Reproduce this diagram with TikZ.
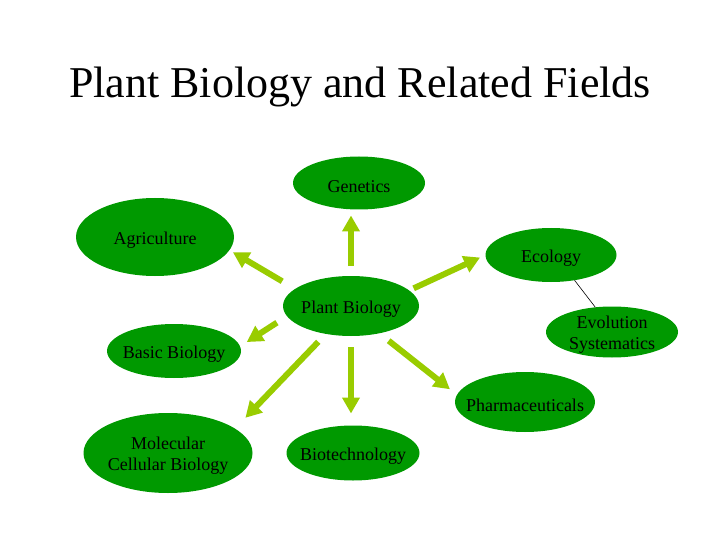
\documentclass[tikz,border=0pt]{standalone}
\usepackage{fontspec}
\setmainfont{Liberation Serif}
\usetikzlibrary{shapes.geometric}
\usetikzlibrary{arrows.meta}

\definecolor{fieldgreen}{RGB}{0,153,0}
\definecolor{arrowgreen}{RGB}{153,204,0}

\newcommand{\lowerit}{\rule{0pt}{18.5pt}}

\tikzset{
  field/.style={ellipse, fill=fieldgreen, inner xsep=-30pt, inner ysep=-15pt,
    outer sep=0pt, align=center, font=\fontsize{18}{21}\selectfont},
  arr/.style={arrowgreen, line width=6pt, -{Triangle[width=17pt,length=16pt]}},
}

\begin{document}
\begin{tikzpicture}[x=1pt,y=-1pt]
\useasboundingbox (0,0) rectangle (720,540);

\node[anchor=base, font=\fontsize{44}{50}\selectfont] (title) at (360,98)
    {Plant Biology and Related Fields};

% the fields
\node[field, minimum width=136pt, minimum height=60pt] (pb) at (351,306) {\lowerit Plant Biology};
\node[field, minimum width=132pt, minimum height=53pt] (gen) at (359,183) {\lowerit Genetics};
\node[field, minimum width=158pt, minimum height=78pt] (agr) at (155,237) {\lowerit Agriculture};
\node[field, minimum width=131pt, minimum height=54pt] (eco) at (551,255) {\lowerit Ecology};
\node[field, minimum width=132pt, minimum height=51pt] (evo) at (612,332) {\lowerit Evolution\\Systematics};
\node[field, minimum width=134pt, minimum height=54pt] (bas) at (174,351) {\lowerit Basic Biology};
\node[field, minimum width=140pt, minimum height=60pt] (pha) at (525,402) {\lowerit Pharmaceuticals};
\node[field, minimum width=169pt, minimum height=80pt] (mol) at (168,453) {\lowerit Molecular\\Cellular Biology};
\node[field, minimum width=133pt, minimum height=55pt] (bio) at (353,453) {\lowerit Biotechnology};

% arrows out of plant biology
\draw[arr, shorten <=10pt, shorten >=6pt] (pb.north) -- (pb.north |- gen.south);
\draw[arr, shorten <=15pt, shorten >=4pt] (pb.163) -- (agr.-10);
\draw[arr, shorten <=5pt, shorten >=6pt] (pb.15) -- (eco.180);
\draw[arr, shorten <=12pt, shorten >=8pt] (pb.189) -- (bas.4);
\draw[arr, shorten <=11pt, shorten >=15pt] (pb.228) -- (mol.20);
\draw[arr, shorten <=11pt, shorten >=12pt] (pb.south) -- (pb.south |- bio.north);
\draw[arr, shorten <=12pt, shorten >=9pt] (pb.-44) -- (pha.174);

\draw[line width=0.6pt] (eco.-47) -- (evo.124);
\end{tikzpicture}
\end{document}
